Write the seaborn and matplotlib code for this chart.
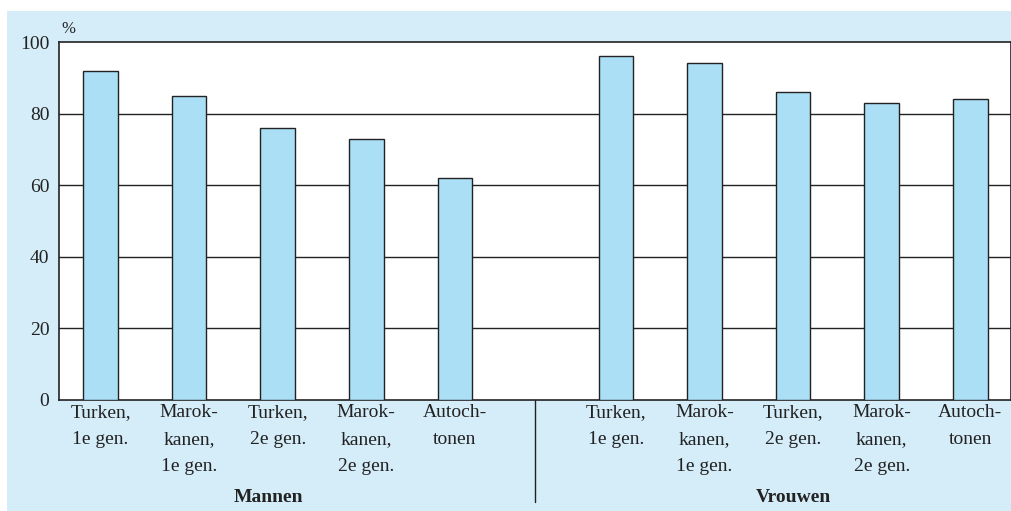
import numpy as np
import pandas as pd
import seaborn as sns
import matplotlib.pyplot as plt
from matplotlib.patches import Rectangle
from matplotlib.transforms import blended_transform_factory

# data (percentages)
groups = ["Mannen", "Vrouwen"]
categories = ["Turken,\n1e gen.", "Marok-\nkanen,\n1e gen.", "Turken,\n2e gen.",
              "Marok-\nkanen,\n2e gen.", "Autoch-\ntonen"]
mannen = [92, 85, 76, 73, 62]
vrouwen = [96, 94, 86, 83, 84]
yticks = [0, 20, 40, 60, 80, 100]

panel_color = "#d5edf9"
bar_color = "#aadff6"

sns.set_theme(style="white")
plt.rcParams["font.family"] = ["Liberation Serif", "DejaVu Serif"]

# x positions: second group shifted to leave a gap
group_gap = 5.82
rows = []
for g, vals in zip(groups, [mannen, vrouwen]):
    offset = 0 if g == "Mannen" else group_gap
    for i, (cat, v) in enumerate(zip(categories, vals)):
        rows.append({"group": g, "cat": cat, "pos": i + offset, "value": v})
df = pd.DataFrame(rows)

fig = plt.figure(figsize=(10.12, 5.11), dpi=100)
fig.patch.set_facecolor("white")
# light blue panel behind the chart
fig.patches.append(Rectangle((7 / 1012, 0), 1, 1 - 11 / 511, transform=fig.transFigure,
                             facecolor=panel_color, edgecolor="none", zorder=-5))

ax = fig.add_axes([59 / 1012, 1 - 400 / 511, 952 / 1012, 358 / 511])
ax.set_facecolor("white")

sns.barplot(data=df, x="pos", y="value", native_scale=True, width=0.39,
            color=bar_color, edgecolor="#222222", linewidth=1.0, saturation=1,
            ax=ax, zorder=3)

ax.set_ylim(0, 100)
ax.set_xlim(-0.47, 4 + group_gap + 0.46)
ax.set_yticks(yticks)
ax.set_yticklabels([str(t) for t in yticks])
ax.set_xticks(df["pos"])
ax.set_xticklabels(df["cat"])
ax.tick_params(axis="both", length=0, labelsize=14, colors="#222222")
ax.tick_params(axis="x", pad=3)
ax.tick_params(axis="y", pad=7)
for lab in ax.get_xticklabels():
    lab.set_linespacing(1.75)
ax.set_xlabel("")
ax.set_ylabel("")

for y in yticks[1:-1]:
    ax.axhline(y, color="#222222", linewidth=1.0, zorder=1)
for s in ax.spines.values():
    s.set_color("#222222")
    s.set_linewidth(1.2)

ax.text(0.01, 1.035, "%", transform=ax.transAxes, fontsize=12, color="#222222",
        ha="center", va="center")

# group labels and divider below the axis
trans = blended_transform_factory(ax.transData, ax.transAxes)
ax.text(1.9, -0.272, groups[0], transform=trans, ha="center", va="center",
        fontsize=14, fontweight="bold", color="#222222")
ax.text(group_gap + 2.0, -0.272, groups[1], transform=trans, ha="center", va="center",
        fontsize=14, fontweight="bold", color="#222222")
mid = (4 + group_gap) / 2
ax.plot([mid, mid], [0, -0.285], transform=trans, color="#222222", linewidth=1.0,
        clip_on=False)

fig.savefig("out.png", dpi=100, facecolor=fig.get_facecolor())
